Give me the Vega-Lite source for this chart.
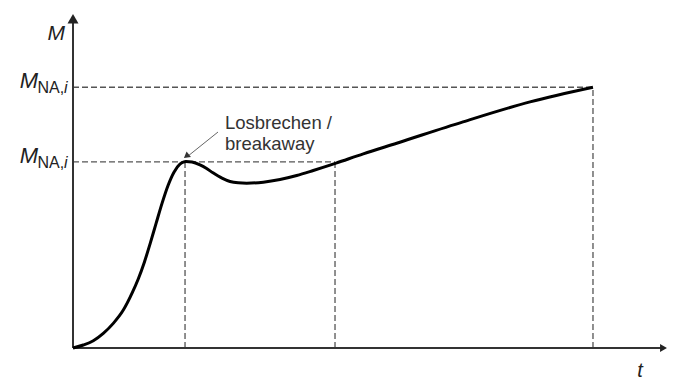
{
  "$schema": "https://vega.github.io/schema/vega-lite/v6.json",
  "width": 594,
  "height": 333,
  "autosize": {"type": "none"},
  "padding": {"left": 73, "top": 15, "right": 16, "bottom": 38},
  "background": "white",
  "config": {"view": {"stroke": null}, "font": "Liberation Sans"},
  "encoding": {
    "x": {"field": "t", "type": "quantitative", "scale": {"domain": [0, 10], "nice": false, "zero": false}, "axis": null},
    "y": {"field": "M", "type": "quantitative", "scale": {"domain": [0, 10], "nice": false, "zero": false}, "axis": null}
  },
  "layer": [
    {
      "data": {"values": [
        {"t": 0, "M": 5.59, "t2": 4.411, "M2": 5.59},
        {"t": 1.886, "M": 0, "t2": 1.886, "M2": 5.59},
        {"t": 4.411, "M": 0, "t2": 4.411, "M2": 5.59},
        {"t": 0, "M": 7.83, "t2": 8.754, "M2": 7.83},
        {"t": 8.754, "M": 0, "t2": 8.754, "M2": 7.83}
      ]},
      "mark": {"type": "rule", "color": "#555555", "strokeWidth": 1.3, "strokeDash": [6, 3]},
      "encoding": {"x2": {"field": "t2"}, "y2": {"field": "M2"}}
    },
    {
      "data": {"values": [
        {"t": 0, "M": 0, "t2": 0, "M2": 9.8},
        {"t": 0, "M": 0, "t2": 9.9, "M2": 0}
      ]},
      "mark": {"type": "rule", "color": "#333333", "strokeWidth": 2},
      "encoding": {"x2": {"field": "t2"}, "y2": {"field": "M2"}}
    },
    {
      "data": {"values": [{"t": 0, "M": 9.886}]},
      "mark": {"type": "point", "shape": "triangle-up", "filled": true, "size": 121, "color": "#222222", "opacity": 1}
    },
    {
      "data": {"values": [{"t": 9.941, "M": 0}]},
      "mark": {"type": "point", "shape": "triangle-right", "filled": true, "size": 64, "color": "#222222", "opacity": 1}
    },
    {
      "data": {"values": [
        {"t": 0, "M": 0},
        {"t": 0.173, "M": 0.09},
        {"t": 0.342, "M": 0.22},
        {"t": 0.51, "M": 0.44},
        {"t": 0.678, "M": 0.74},
        {"t": 0.847, "M": 1.14},
        {"t": 1.0, "M": 1.67},
        {"t": 1.1, "M": 2.08},
        {"t": 1.2, "M": 2.57},
        {"t": 1.3, "M": 3.14},
        {"t": 1.4, "M": 3.75},
        {"t": 1.5, "M": 4.35},
        {"t": 1.6, "M": 4.88},
        {"t": 1.7, "M": 5.28},
        {"t": 1.8, "M": 5.52},
        {"t": 1.857, "M": 5.58},
        {"t": 1.9, "M": 5.6},
        {"t": 2.003, "M": 5.585},
        {"t": 2.138, "M": 5.5},
        {"t": 2.25, "M": 5.39},
        {"t": 2.357, "M": 5.26},
        {"t": 2.508, "M": 5.1},
        {"t": 2.643, "M": 5.0},
        {"t": 2.78, "M": 4.96},
        {"t": 2.924, "M": 4.95},
        {"t": 3.204, "M": 4.98},
        {"t": 3.485, "M": 5.06},
        {"t": 3.766, "M": 5.18},
        {"t": 4.045, "M": 5.33},
        {"t": 4.327, "M": 5.49},
        {"t": 4.428, "M": 5.55},
        {"t": 4.887, "M": 5.83},
        {"t": 5.45, "M": 6.15},
        {"t": 6.566, "M": 6.79},
        {"t": 7.694, "M": 7.39},
        {"t": 8.754, "M": 7.83}
      ]},
      "mark": {"type": "line", "color": "#000000", "strokeWidth": 3, "interpolate": "monotone"}
    },
    {
      "data": {"values": [{"t": 2.441, "M": 6.486, "t2": 1.919, "M2": 5.74}]},
      "mark": {"type": "rule", "color": "#666666", "strokeWidth": 1},
      "encoding": {"x2": {"field": "t2"}, "y2": {"field": "M2"}}
    },
    {
      "data": {"values": [{"t": 1.908, "M": 5.76}]},
      "mark": {"type": "point", "shape": "triangle-up", "angle": 232, "filled": true, "size": 50, "color": "#333333", "opacity": 1}
    },
    {
      "data": {"values": [{"t": 2.559, "M": 6.577, "label": ["Losbrechen /", "breakaway"]}]},
      "mark": {"type": "text", "align": "left", "baseline": "alphabetic", "fontSize": 18.5, "lineHeight": 21, "color": "#333333"},
      "encoding": {"text": {"field": "label"}}
    },
    {
      "data": {"values": [{"t": 0, "M": 9.25, "label": "M"}]},
      "mark": {"type": "text", "align": "right", "baseline": "alphabetic", "fontSize": 21, "fontStyle": "italic", "dx": -8, "color": "#222222"},
      "encoding": {"text": {"field": "label"}}
    },
    {
      "data": {"values": [{"t": 0, "M": 7.83, "label": "M"}, {"t": 0, "M": 5.59, "label": "M"}]},
      "mark": {"type": "text", "align": "right", "baseline": "alphabetic", "fontSize": 22, "fontStyle": "italic", "dx": -35, "dy": 1, "color": "#222222"},
      "encoding": {"text": {"field": "label"}}
    },
    {
      "data": {"values": [{"t": 0, "M": 7.83, "label": "NA,"}, {"t": 0, "M": 5.59, "label": "NA,"}]},
      "mark": {"type": "text", "align": "left", "baseline": "alphabetic", "fontSize": 16, "dx": -35.5, "dy": 6, "color": "#222222"},
      "encoding": {"text": {"field": "label"}}
    },
    {
      "data": {"values": [{"t": 0, "M": 7.83, "label": "i"}, {"t": 0, "M": 5.59, "label": "i"}]},
      "mark": {"type": "text", "align": "left", "baseline": "alphabetic", "fontSize": 16, "fontStyle": "italic", "dx": -9, "dy": 6, "color": "#222222"},
      "encoding": {"text": {"field": "label"}}
    },
    {
      "data": {"values": [{"t": 9.545, "M": 0, "label": "t"}]},
      "mark": {"type": "text", "align": "center", "baseline": "alphabetic", "fontSize": 20, "fontStyle": "italic", "dy": 29, "color": "#222222"},
      "encoding": {"text": {"field": "label"}}
    }
  ]
}
